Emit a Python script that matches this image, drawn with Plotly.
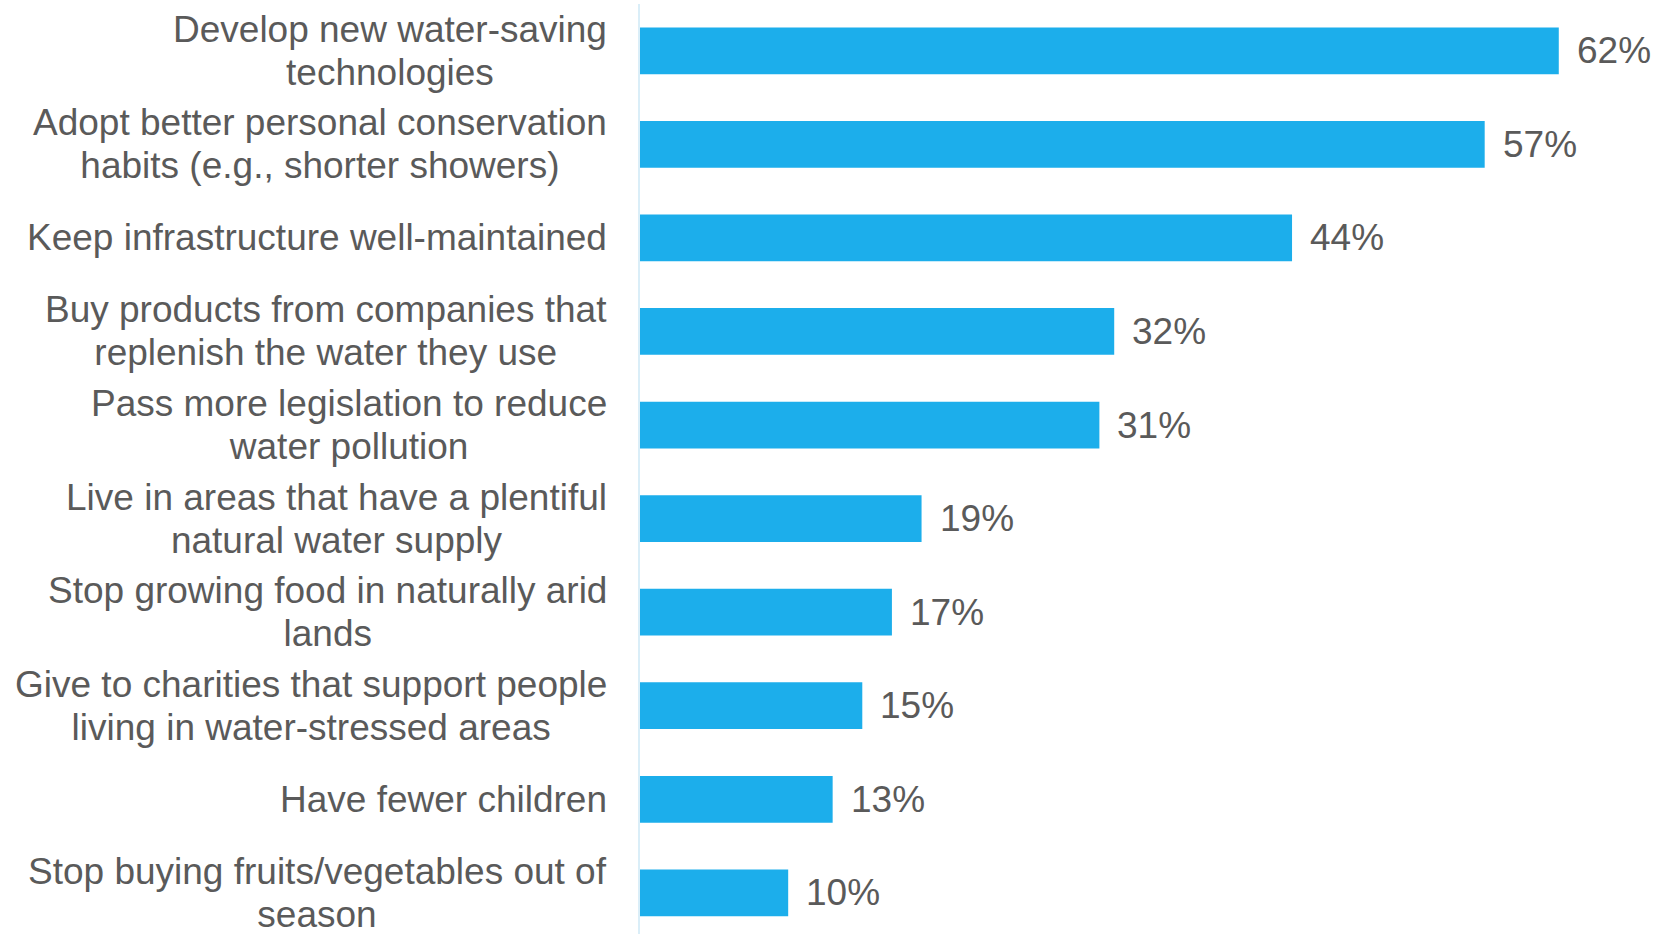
import plotly.graph_objects as go

categories = [
    "Develop new water-saving<br>technologies",
    "Adopt better personal conservation<br>habits (e.g., shorter showers)",
    "Keep infrastructure well-maintained",
    "Buy products from companies that<br>replenish the water they use",
    "Pass more legislation to reduce<br>water pollution",
    "Live in areas that have a plentiful<br>natural water supply",
    "Stop growing food in naturally arid<br>lands",
    "Give to charities that support people<br>living in water-stressed areas",
    "Have fewer children",
    "Stop buying fruits/vegetables out of<br>season",
]
values = [62, 57, 44, 32, 31, 19, 17, 15, 13, 10]

BAR_COLOR = "#1CAEEB"
TEXT_COLOR = "#5A5A5A"
FONT = "Arial"
SIZE = 37
# base size of the category annotations sets a tighter line pitch (1.3 x 33px)
LINE_BASE = 33


def tight_lines(label):
    """Wrap every line in a 37px span while the annotation base size sets the spacing."""
    return "<br>".join(
        f'<span style="font-size:{SIZE}px">{part}</span>' for part in label.split("<br>")
    )


fig = go.Figure(
    go.Bar(
        x=values,
        y=categories,
        orientation="h",
        marker=dict(color=BAR_COLOR, line=dict(width=0)),
        hoverinfo="skip",
    )
)

for v, c in zip(values, categories):
    # value label just past the end of each bar
    fig.add_annotation(
        x=v, y=c, text=f"{v}%", showarrow=False,
        xanchor="left", yanchor="middle", xshift=16,
        font=dict(family=FONT, size=SIZE, color=TEXT_COLOR),
    )
    # category label, centred lines, right edge near the axis
    fig.add_annotation(
        x=0, xref="paper", y=c, text=tight_lines(c), showarrow=False,
        xanchor="right", yanchor="middle", xshift=-31, align="center",
        font=dict(family=FONT, size=LINE_BASE, color=TEXT_COLOR),
    )

fig.update_layout(
    width=1664,
    height=934,
    margin=dict(l=640, r=0, t=4, b=0),
    paper_bgcolor="white",
    plot_bgcolor="white",
    bargap=0.5,
    showlegend=False,
    font=dict(family=FONT, size=SIZE, color=TEXT_COLOR),
    xaxis=dict(
        range=[0, 69.1],
        visible=False,
        showgrid=False,
        zeroline=False,
    ),
    yaxis=dict(
        type="category",
        categoryorder="array",
        categoryarray=categories,
        range=[9.44, -0.5],
        showgrid=False,
        zeroline=False,
        showline=True,
        linecolor="#DAEEF8",
        linewidth=2,
        ticks="",
        showticklabels=False,
    ),
)

fig.write_html("out.html")
